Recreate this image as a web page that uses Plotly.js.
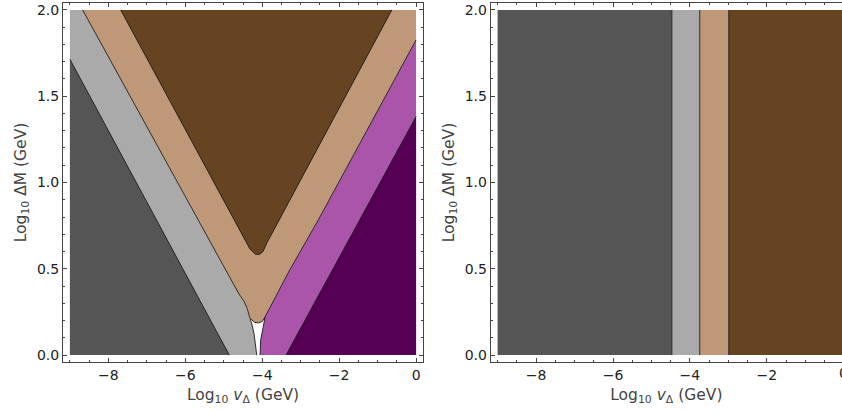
<!DOCTYPE html>
<html>
<head>
<meta charset="utf-8">
<script src="https://cdn.plot.ly/plotly-3.0.1.min.js"></script>
<style>html,body{margin:0;padding:0;background:#fff;}#chart{width:842px;height:414px;}</style>
</head>
<body>
<div id="chart"></div>
<script>
// ---------- data (Log10 v_Delta, Log10 DeltaM) ----------
const xMin = -9, xMax = 0, yMin = 0, yMax = 2;

// Left panel boundary curves
const curveA_x = [-9, -6.93, -4.856];            // dark grey / light grey
const curveA_y = [1.714, 0.857, 0];
const curveB_x = [-8.67, -7.43, -6.19, -5.1, -4.62, -4.47, -4.39, -4.34, -4.27, -4.21, -4.17, -4.143]; // light grey / tan
const curveB_y = [2.0, 1.5, 1.0, 0.56, 0.36, 0.31, 0.27, 0.23, 0.18, 0.12, 0.06, 0];
const tanLow_x = [-4.30, -4.20, -4.10, -4.00, -3.93, -3.28, -2.54, -1.5, 0];   // tan lower apex + tan / magenta
const tanLow_y = [0.21, 0.19, 0.186, 0.195, 0.22, 0.495, 0.784, 1.21, 1.826];
const magEdge_x = [-4.057, -4.04, -3.97, -3.93];  // magenta left edge (white gap)
const magEdge_y = [0, 0.09, 0.167, 0.22];
const curveD_x = [-3.381, 0];                    // magenta / dark purple
const curveD_y = [0, 1.382];
const vInner_x = [-7.68, -4.45, -4.32, -4.18, -4.08, -3.98, -3.88, -0.63]; // brown V
const vInner_y = [2.0, 0.67, 0.615, 0.585, 0.583, 0.60, 0.65, 2.0];

// Right panel vertical boundaries
const rightBounds = [-4.47, -3.745, -2.99];

// Ticks
const xTicks = [-8, -6, -4, -2, 0];
const yTicks = [0, 0.5, 1.0, 1.5, 2.0];

// Colours
const cDarkGrey = '#555555', cLightGrey = '#aaaaaa', cTan = '#bf9977',
      cBrown = '#664422', cMagenta = '#aa55aa', cPurple = '#550055';

// ---------- traces ----------
function fillTrace(xs, ys, color, xa, ya) {
  return {x: xs, y: ys, xaxis: xa, yaxis: ya, type: 'scatter', mode: 'lines',
          fill: 'toself', fillcolor: color, line: {width: 0, color: color},
          hoverinfo: 'skip', showlegend: false};
}
function lineTrace(xs, ys, xa, ya) {
  return {x: xs, y: ys, xaxis: xa, yaxis: ya, type: 'scatter', mode: 'lines',
          line: {width: 0.9, color: '#1a1a1a'}, hoverinfo: 'skip', showlegend: false};
}

const traces = [];
// light grey: everything left of B
traces.push(fillTrace([xMin, xMin].concat(curveB_x), [yMin, yMax].concat(curveB_y), cLightGrey, 'x', 'y'));
// dark grey: below A
traces.push(fillTrace([xMin].concat(curveA_x), [yMin].concat(curveA_y), cDarkGrey, 'x', 'y'));
// tan
const bUpper = curveB_x.map((v, i) => [v, curveB_y[i]]).filter(p => p[1] > 0.22);
traces.push(fillTrace(
  bUpper.map(p => p[0]).concat(tanLow_x, [xMax]),
  bUpper.map(p => p[1]).concat(tanLow_y, [yMax]), cTan, 'x', 'y'));
// magenta
const cUpper = tanLow_x.map((v, i) => [v, tanLow_y[i]]).filter(p => p[0] >= magEdge_x[magEdge_x.length - 1]);
traces.push(fillTrace(
  magEdge_x.concat(cUpper.map(p => p[0]), [xMax]),
  magEdge_y.concat(cUpper.map(p => p[1]), [yMin]), cMagenta, 'x', 'y'));
// dark purple
traces.push(fillTrace(curveD_x.concat([xMax]), curveD_y.concat([yMin]), cPurple, 'x', 'y'));
// brown
traces.push(fillTrace(vInner_x, vInner_y, cBrown, 'x', 'y'));
// boundary lines
traces.push(lineTrace(curveA_x, curveA_y, 'x', 'y'));
traces.push(lineTrace(curveB_x, curveB_y, 'x', 'y'));
traces.push(lineTrace(tanLow_x, tanLow_y, 'x', 'y'));
traces.push(lineTrace(magEdge_x, magEdge_y, 'x', 'y'));
traces.push(lineTrace(curveD_x, curveD_y, 'x', 'y'));
traces.push(lineTrace(vInner_x, vInner_y, 'x', 'y'));

// right panel bands
const rEdges = [xMin].concat(rightBounds, [xMax]);
const rColors = [cDarkGrey, cLightGrey, cTan, cBrown];
for (let i = 0; i < 4; i++) {
  const a = rEdges[i], b = rEdges[i + 1];
  traces.push(fillTrace([a, a, b, b], [yMin, yMax, yMax, yMin], rColors[i], 'x2', 'y2'));
}
rightBounds.forEach(v => traces.push(lineTrace([v, v], [yMin, yMax], 'x2', 'y2')));

// ---------- layout ----------
const W = 842, H = 414;
const tickFont = {family: 'DejaVu Sans, sans-serif', size: 14, color: '#222'};
const titleFont = {family: 'DejaVu Sans, sans-serif', size: 15.5, color: '#444'};
function axisBase() {
  return {showline: true, linecolor: '#444', linewidth: 1, mirror: 'ticks',
          ticks: 'inside', ticklen: 4, tickwidth: 1, tickcolor: '#444',
          showgrid: false, zeroline: false, tickfont: tickFont, automargin: false,
          fixedrange: true};
}
const xTitle = 'Log<sub>10</sub> <i>v</i><sub>Δ</sub> (GeV)';
const yTitle = 'Log<sub>10</sub> ΔM (GeV)';

const xa = Object.assign(axisBase(), {
  domain: [63 / W, 423 / W], range: [-9.18, 0.18], anchor: 'y',
  tickmode: 'array', tickvals: xTicks,
  minor: {ticks: 'inside', ticklen: 2, tickcolor: '#444', dtick: 0.5, tick0: 0, showgrid: false},
  title: {text: xTitle, font: titleFont, standoff: 7}
});
const ya = Object.assign(axisBase(), {
  domain: [0, 1], range: [-0.04, 2.04], anchor: 'x',
  tickmode: 'array', tickvals: yTicks, tickformat: '.1f',
  minor: {ticks: 'inside', ticklen: 2, tickcolor: '#444', dtick: 0.1, tick0: 0, showgrid: false},
  title: {text: yTitle, font: titleFont, standoff: 6}
});
const xa2 = Object.assign(axisBase(), {
  domain: [490.7 / W, 1], range: [-9.18, -0.046], anchor: 'y2',
  tickmode: 'array', tickvals: xTicks,
  minor: {ticks: 'inside', ticklen: 2, tickcolor: '#444', dtick: 0.5, tick0: 0, showgrid: false},
  title: {text: xTitle, font: titleFont, standoff: 7}
});
const ya2 = Object.assign(axisBase(), {
  domain: [0, 1], range: [-0.04, 2.04], anchor: 'x2', mirror: false,
  tickmode: 'array', tickvals: yTicks, tickformat: '.1f',
  minor: {ticks: 'inside', ticklen: 2, tickcolor: '#444', dtick: 0.1, tick0: 0, showgrid: false},
  title: {text: yTitle, font: titleFont, standoff: 6}
});

const layout = {
  width: W, height: H,
  margin: {l: 0, r: 0, t: 3, b: 52, pad: 0},
  paper_bgcolor: '#fff', plot_bgcolor: '#fff',
  showlegend: false,
  xaxis: xa, yaxis: ya, xaxis2: xa2, yaxis2: ya2,
  annotations: [{
    text: '0', xref: 'paper', yref: 'paper', x: 843.3 / W, y: -10.5 / 359,
    xanchor: 'center', yanchor: 'middle', showarrow: false, font: tickFont
  }]
};

Plotly.newPlot('chart', traces, layout, {staticPlot: true, displayModeBar: false});
</script>
</body>
</html>
